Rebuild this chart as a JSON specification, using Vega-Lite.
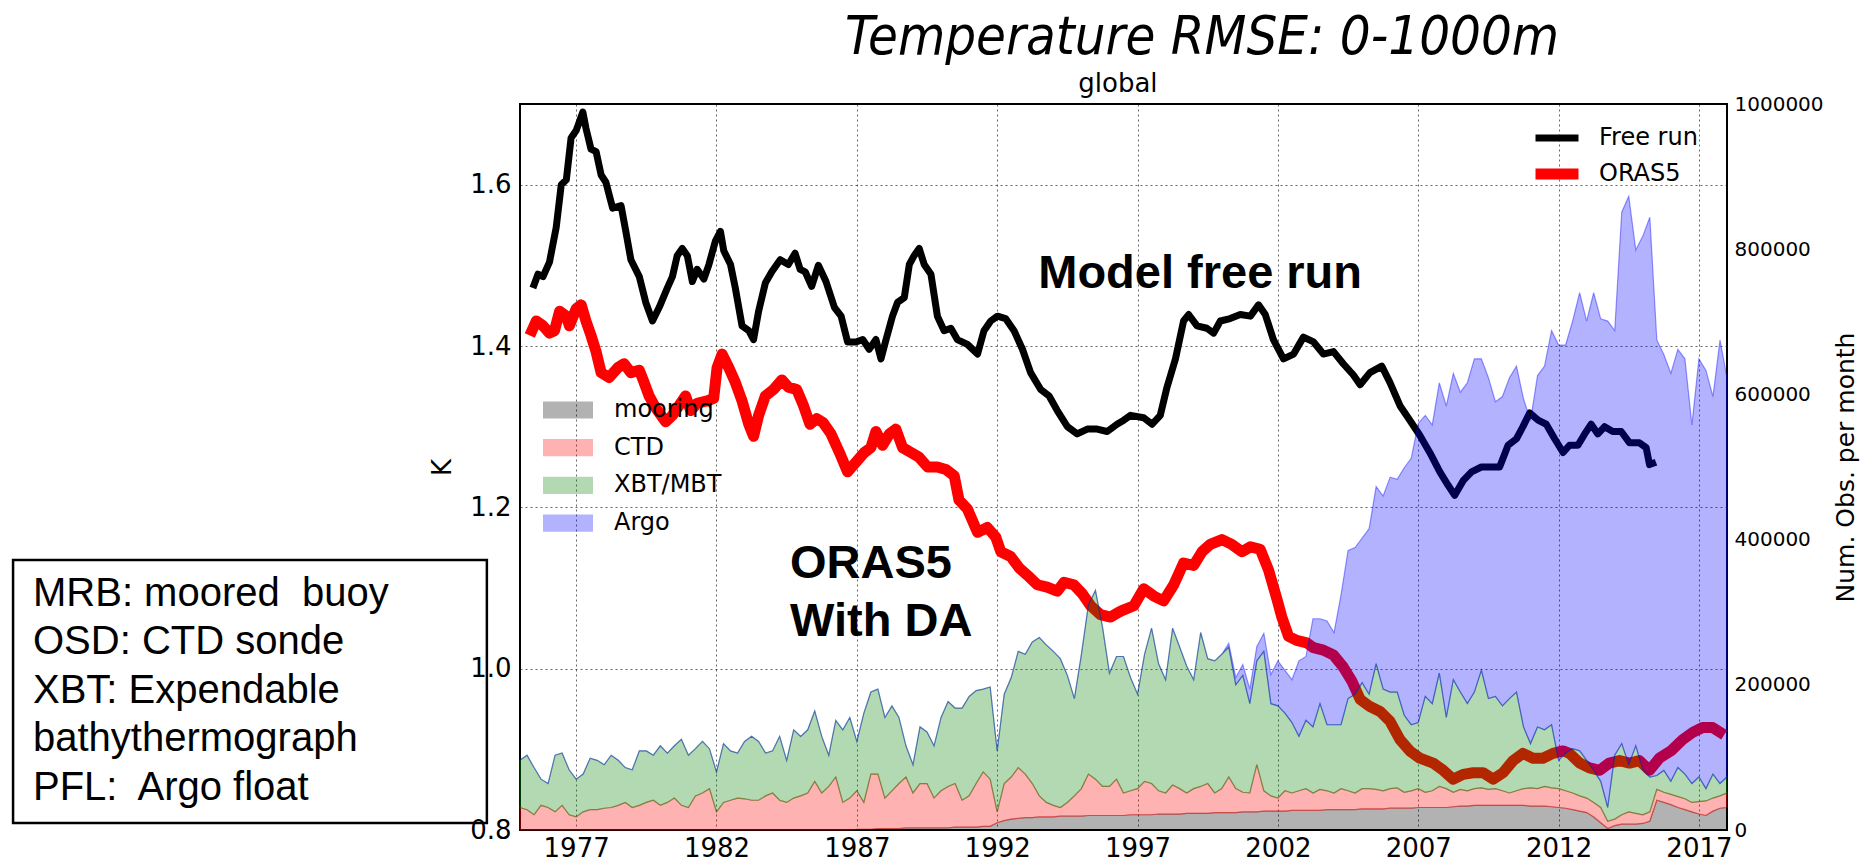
{
"$schema": "https://vega.github.io/schema/vega-lite/v6.json",
"width": 1207, "height": 726,
"autosize": {"type": "none"},
"padding": {"left": 520, "top": 104, "right": 143, "bottom": 33},
"background": "white",
"config": {
  "view": {"stroke": "black", "strokeWidth": 2},
  "font": "DejaVu Sans",
  "axis": {"labelFont": "DejaVu Sans", "titleFont": "DejaVu Sans", "labelColor": "black", "titleColor": "black", "tickColor": "black", "tickWidth": 1.5, "titleFontWeight": "normal", "labelOverlap": false, "labelFlush": false},
  "legend": {"labelFont": "DejaVu Sans", "labelFontSize": 24, "labelColor": "black", "padding": 0, "rowPadding": 6, "labelLimit": 400}
},
"datasets": {
"lines": [
{"t":1975.46,"s":"Free run","k":1.472},{"t":1975.64,"s":"Free run","k":1.489},{"t":1975.82,"s":"Free run","k":1.486},{"t":1976.05,"s":"Free run","k":1.504},{"t":1976.29,"s":"Free run","k":1.547},{"t":1976.47,"s":"Free run","k":1.6},{"t":1976.65,"s":"Free run","k":1.606},{"t":1976.82,"s":"Free run","k":1.658},{"t":1977.0,"s":"Free run","k":1.667},{"t":1977.24,"s":"Free run","k":1.69},{"t":1977.35,"s":"Free run","k":1.67},{"t":1977.53,"s":"Free run","k":1.644},{"t":1977.71,"s":"Free run","k":1.641},{"t":1977.89,"s":"Free run","k":1.612},{"t":1978.06,"s":"Free run","k":1.603},{"t":1978.3,"s":"Free run","k":1.571},{"t":1978.6,"s":"Free run","k":1.574},{"t":1978.77,"s":"Free run","k":1.542},{"t":1978.95,"s":"Free run","k":1.507},{"t":1979.25,"s":"Free run","k":1.486},{"t":1979.48,"s":"Free run","k":1.454},{"t":1979.72,"s":"Free run","k":1.431},{"t":1979.96,"s":"Free run","k":1.448},{"t":1980.25,"s":"Free run","k":1.472},{"t":1980.43,"s":"Free run","k":1.486},{"t":1980.6,"s":"Free run","k":1.512},{"t":1980.78,"s":"Free run","k":1.521},{"t":1980.96,"s":"Free run","k":1.512},{"t":1981.14,"s":"Free run","k":1.48},{"t":1981.31,"s":"Free run","k":1.495},{"t":1981.55,"s":"Free run","k":1.483},{"t":1981.73,"s":"Free run","k":1.501},{"t":1981.96,"s":"Free run","k":1.53},{"t":1982.14,"s":"Free run","k":1.542},{"t":1982.26,"s":"Free run","k":1.518},{"t":1982.5,"s":"Free run","k":1.501},{"t":1982.67,"s":"Free run","k":1.472},{"t":1982.91,"s":"Free run","k":1.425},{"t":1983.15,"s":"Free run","k":1.419},{"t":1983.32,"s":"Free run","k":1.408},{"t":1983.5,"s":"Free run","k":1.443},{"t":1983.74,"s":"Free run","k":1.478},{"t":1983.97,"s":"Free run","k":1.492},{"t":1984.27,"s":"Free run","k":1.507},{"t":1984.56,"s":"Free run","k":1.501},{"t":1984.8,"s":"Free run","k":1.515},{"t":1984.98,"s":"Free run","k":1.495},{"t":1985.16,"s":"Free run","k":1.492},{"t":1985.39,"s":"Free run","k":1.474},{"t":1985.63,"s":"Free run","k":1.5},{"t":1985.9,"s":"Free run","k":1.48},{"t":1986.2,"s":"Free run","k":1.448},{"t":1986.44,"s":"Free run","k":1.437},{"t":1986.67,"s":"Free run","k":1.405},{"t":1986.97,"s":"Free run","k":1.405},{"t":1987.21,"s":"Free run","k":1.408},{"t":1987.44,"s":"Free run","k":1.396},{"t":1987.68,"s":"Free run","k":1.408},{"t":1987.86,"s":"Free run","k":1.384},{"t":1988.04,"s":"Free run","k":1.408},{"t":1988.27,"s":"Free run","k":1.437},{"t":1988.45,"s":"Free run","k":1.454},{"t":1988.69,"s":"Free run","k":1.46},{"t":1988.87,"s":"Free run","k":1.501},{"t":1989.04,"s":"Free run","k":1.512},{"t":1989.22,"s":"Free run","k":1.521},{"t":1989.4,"s":"Free run","k":1.501},{"t":1989.64,"s":"Free run","k":1.489},{"t":1989.87,"s":"Free run","k":1.437},{"t":1990.11,"s":"Free run","k":1.419},{"t":1990.35,"s":"Free run","k":1.422},{"t":1990.58,"s":"Free run","k":1.408},{"t":1990.94,"s":"Free run","k":1.402},{"t":1991.3,"s":"Free run","k":1.39},{"t":1991.53,"s":"Free run","k":1.419},{"t":1991.77,"s":"Free run","k":1.431},{"t":1992.01,"s":"Free run","k":1.437},{"t":1992.3,"s":"Free run","k":1.434},{"t":1992.6,"s":"Free run","k":1.419},{"t":1992.9,"s":"Free run","k":1.396},{"t":1993.19,"s":"Free run","k":1.367},{"t":1993.55,"s":"Free run","k":1.346},{"t":1993.85,"s":"Free run","k":1.338},{"t":1994.14,"s":"Free run","k":1.32},{"t":1994.5,"s":"Free run","k":1.3},{"t":1994.85,"s":"Free run","k":1.291},{"t":1995.21,"s":"Free run","k":1.297},{"t":1995.56,"s":"Free run","k":1.297},{"t":1995.92,"s":"Free run","k":1.294},{"t":1996.27,"s":"Free run","k":1.303},{"t":1996.51,"s":"Free run","k":1.308},{"t":1996.75,"s":"Free run","k":1.314},{"t":1997.22,"s":"Free run","k":1.311},{"t":1997.52,"s":"Free run","k":1.303},{"t":1997.81,"s":"Free run","k":1.314},{"t":1998.05,"s":"Free run","k":1.349},{"t":1998.35,"s":"Free run","k":1.384},{"t":1998.64,"s":"Free run","k":1.431},{"t":1998.82,"s":"Free run","k":1.439},{"t":1999.12,"s":"Free run","k":1.425},{"t":1999.47,"s":"Free run","k":1.422},{"t":1999.71,"s":"Free run","k":1.416},{"t":1999.95,"s":"Free run","k":1.431},{"t":2000.3,"s":"Free run","k":1.434},{"t":2000.66,"s":"Free run","k":1.439},{"t":2001.02,"s":"Free run","k":1.437},{"t":2001.31,"s":"Free run","k":1.451},{"t":2001.55,"s":"Free run","k":1.439},{"t":2001.84,"s":"Free run","k":1.408},{"t":2002.2,"s":"Free run","k":1.384},{"t":2002.56,"s":"Free run","k":1.39},{"t":2002.91,"s":"Free run","k":1.411},{"t":2003.27,"s":"Free run","k":1.405},{"t":2003.62,"s":"Free run","k":1.39},{"t":2003.98,"s":"Free run","k":1.393},{"t":2004.33,"s":"Free run","k":1.378},{"t":2004.69,"s":"Free run","k":1.364},{"t":2004.93,"s":"Free run","k":1.352},{"t":2005.28,"s":"Free run","k":1.367},{"t":2005.7,"s":"Free run","k":1.375},{"t":2005.99,"s":"Free run","k":1.355},{"t":2006.35,"s":"Free run","k":1.326},{"t":2006.7,"s":"Free run","k":1.308},{"t":2007.06,"s":"Free run","k":1.289},{"t":2007.41,"s":"Free run","k":1.268},{"t":2007.77,"s":"Free run","k":1.244},{"t":2008.07,"s":"Free run","k":1.227},{"t":2008.3,"s":"Free run","k":1.215},{"t":2008.6,"s":"Free run","k":1.233},{"t":2008.9,"s":"Free run","k":1.244},{"t":2009.25,"s":"Free run","k":1.25},{"t":2009.55,"s":"Free run","k":1.25},{"t":2009.9,"s":"Free run","k":1.25},{"t":2010.2,"s":"Free run","k":1.277},{"t":2010.5,"s":"Free run","k":1.285},{"t":2010.73,"s":"Free run","k":1.3},{"t":2010.97,"s":"Free run","k":1.317},{"t":2011.27,"s":"Free run","k":1.308},{"t":2011.56,"s":"Free run","k":1.303},{"t":2011.86,"s":"Free run","k":1.285},{"t":2012.16,"s":"Free run","k":1.268},{"t":2012.39,"s":"Free run","k":1.277},{"t":2012.69,"s":"Free run","k":1.277},{"t":2012.93,"s":"Free run","k":1.291},{"t":2013.16,"s":"Free run","k":1.303},{"t":2013.4,"s":"Free run","k":1.291},{"t":2013.64,"s":"Free run","k":1.3},{"t":2013.93,"s":"Free run","k":1.294},{"t":2014.23,"s":"Free run","k":1.294},{"t":2014.53,"s":"Free run","k":1.28},{"t":2014.88,"s":"Free run","k":1.28},{"t":2015.12,"s":"Free run","k":1.274},{"t":2015.24,"s":"Free run","k":1.253},{"t":2015.47,"s":"Free run","k":1.256},
{"t":1975.35,"s":"ORAS5","k":1.413},{"t":1975.58,"s":"ORAS5","k":1.431},{"t":1975.82,"s":"ORAS5","k":1.425},{"t":1976.05,"s":"ORAS5","k":1.416},{"t":1976.23,"s":"ORAS5","k":1.419},{"t":1976.41,"s":"ORAS5","k":1.443},{"t":1976.65,"s":"ORAS5","k":1.437},{"t":1976.76,"s":"ORAS5","k":1.425},{"t":1977.0,"s":"ORAS5","k":1.446},{"t":1977.18,"s":"ORAS5","k":1.451},{"t":1977.35,"s":"ORAS5","k":1.431},{"t":1977.53,"s":"ORAS5","k":1.413},{"t":1977.71,"s":"ORAS5","k":1.393},{"t":1977.89,"s":"ORAS5","k":1.367},{"t":1978.18,"s":"ORAS5","k":1.361},{"t":1978.48,"s":"ORAS5","k":1.373},{"t":1978.71,"s":"ORAS5","k":1.378},{"t":1978.95,"s":"ORAS5","k":1.367},{"t":1979.25,"s":"ORAS5","k":1.37},{"t":1979.42,"s":"ORAS5","k":1.355},{"t":1979.6,"s":"ORAS5","k":1.338},{"t":1979.84,"s":"ORAS5","k":1.323},{"t":1980.19,"s":"ORAS5","k":1.306},{"t":1980.43,"s":"ORAS5","k":1.314},{"t":1980.66,"s":"ORAS5","k":1.326},{"t":1980.9,"s":"ORAS5","k":1.338},{"t":1981.08,"s":"ORAS5","k":1.32},{"t":1981.31,"s":"ORAS5","k":1.329},{"t":1981.67,"s":"ORAS5","k":1.332},{"t":1981.9,"s":"ORAS5","k":1.335},{"t":1982.02,"s":"ORAS5","k":1.373},{"t":1982.2,"s":"ORAS5","k":1.39},{"t":1982.44,"s":"ORAS5","k":1.373},{"t":1982.67,"s":"ORAS5","k":1.355},{"t":1982.91,"s":"ORAS5","k":1.332},{"t":1983.15,"s":"ORAS5","k":1.303},{"t":1983.32,"s":"ORAS5","k":1.288},{"t":1983.5,"s":"ORAS5","k":1.314},{"t":1983.74,"s":"ORAS5","k":1.338},{"t":1984.03,"s":"ORAS5","k":1.346},{"t":1984.33,"s":"ORAS5","k":1.358},{"t":1984.56,"s":"ORAS5","k":1.349},{"t":1984.86,"s":"ORAS5","k":1.346},{"t":1985.1,"s":"ORAS5","k":1.326},{"t":1985.33,"s":"ORAS5","k":1.303},{"t":1985.57,"s":"ORAS5","k":1.31},{"t":1985.8,"s":"ORAS5","k":1.305},{"t":1986.08,"s":"ORAS5","k":1.291},{"t":1986.38,"s":"ORAS5","k":1.268},{"t":1986.67,"s":"ORAS5","k":1.244},{"t":1986.97,"s":"ORAS5","k":1.256},{"t":1987.27,"s":"ORAS5","k":1.268},{"t":1987.5,"s":"ORAS5","k":1.274},{"t":1987.68,"s":"ORAS5","k":1.294},{"t":1987.92,"s":"ORAS5","k":1.277},{"t":1988.16,"s":"ORAS5","k":1.291},{"t":1988.39,"s":"ORAS5","k":1.297},{"t":1988.63,"s":"ORAS5","k":1.274},{"t":1988.93,"s":"ORAS5","k":1.268},{"t":1989.22,"s":"ORAS5","k":1.262},{"t":1989.52,"s":"ORAS5","k":1.25},{"t":1989.87,"s":"ORAS5","k":1.25},{"t":1990.17,"s":"ORAS5","k":1.247},{"t":1990.47,"s":"ORAS5","k":1.239},{"t":1990.64,"s":"ORAS5","k":1.209},{"t":1990.94,"s":"ORAS5","k":1.198},{"t":1991.3,"s":"ORAS5","k":1.169},{"t":1991.65,"s":"ORAS5","k":1.175},{"t":1991.95,"s":"ORAS5","k":1.163},{"t":1992.13,"s":"ORAS5","k":1.145},{"t":1992.48,"s":"ORAS5","k":1.139},{"t":1992.78,"s":"ORAS5","k":1.125},{"t":1993.07,"s":"ORAS5","k":1.116},{"t":1993.43,"s":"ORAS5","k":1.104},{"t":1993.78,"s":"ORAS5","k":1.101},{"t":1994.14,"s":"ORAS5","k":1.096},{"t":1994.38,"s":"ORAS5","k":1.107},{"t":1994.73,"s":"ORAS5","k":1.104},{"t":1995.03,"s":"ORAS5","k":1.093},{"t":1995.33,"s":"ORAS5","k":1.078},{"t":1995.68,"s":"ORAS5","k":1.067},{"t":1996.04,"s":"ORAS5","k":1.064},{"t":1996.33,"s":"ORAS5","k":1.07},{"t":1996.51,"s":"ORAS5","k":1.073},{"t":1996.87,"s":"ORAS5","k":1.078},{"t":1997.22,"s":"ORAS5","k":1.099},{"t":1997.58,"s":"ORAS5","k":1.09},{"t":1997.93,"s":"ORAS5","k":1.084},{"t":1998.29,"s":"ORAS5","k":1.104},{"t":1998.64,"s":"ORAS5","k":1.131},{"t":1999.0,"s":"ORAS5","k":1.128},{"t":1999.3,"s":"ORAS5","k":1.145},{"t":1999.59,"s":"ORAS5","k":1.154},{"t":2000.01,"s":"ORAS5","k":1.16},{"t":2000.36,"s":"ORAS5","k":1.154},{"t":2000.72,"s":"ORAS5","k":1.145},{"t":2001.02,"s":"ORAS5","k":1.151},{"t":2001.37,"s":"ORAS5","k":1.148},{"t":2001.67,"s":"ORAS5","k":1.122},{"t":2001.96,"s":"ORAS5","k":1.087},{"t":2002.14,"s":"ORAS5","k":1.064},{"t":2002.38,"s":"ORAS5","k":1.04},{"t":2002.67,"s":"ORAS5","k":1.035},{"t":2003.03,"s":"ORAS5","k":1.032},{"t":2003.27,"s":"ORAS5","k":1.026},{"t":2003.62,"s":"ORAS5","k":1.023},{"t":2003.98,"s":"ORAS5","k":1.017},{"t":2004.33,"s":"ORAS5","k":1.002},{"t":2004.63,"s":"ORAS5","k":0.985},{"t":2004.93,"s":"ORAS5","k":0.962},{"t":2005.28,"s":"ORAS5","k":0.953},{"t":2005.64,"s":"ORAS5","k":0.947},{"t":2005.99,"s":"ORAS5","k":0.935},{"t":2006.35,"s":"ORAS5","k":0.912},{"t":2006.7,"s":"ORAS5","k":0.898},{"t":2007.06,"s":"ORAS5","k":0.889},{"t":2007.53,"s":"ORAS5","k":0.883},{"t":2007.89,"s":"ORAS5","k":0.874},{"t":2008.24,"s":"ORAS5","k":0.863},{"t":2008.6,"s":"ORAS5","k":0.869},{"t":2008.96,"s":"ORAS5","k":0.871},{"t":2009.31,"s":"ORAS5","k":0.871},{"t":2009.67,"s":"ORAS5","k":0.863},{"t":2010.02,"s":"ORAS5","k":0.871},{"t":2010.38,"s":"ORAS5","k":0.886},{"t":2010.73,"s":"ORAS5","k":0.895},{"t":2011.09,"s":"ORAS5","k":0.889},{"t":2011.44,"s":"ORAS5","k":0.889},{"t":2011.8,"s":"ORAS5","k":0.895},{"t":2012.16,"s":"ORAS5","k":0.898},{"t":2012.39,"s":"ORAS5","k":0.895},{"t":2012.75,"s":"ORAS5","k":0.883},{"t":2013.1,"s":"ORAS5","k":0.877},{"t":2013.46,"s":"ORAS5","k":0.874},{"t":2013.81,"s":"ORAS5","k":0.883},{"t":2014.17,"s":"ORAS5","k":0.886},{"t":2014.53,"s":"ORAS5","k":0.883},{"t":2014.88,"s":"ORAS5","k":0.886},{"t":2015.24,"s":"ORAS5","k":0.874},{"t":2015.59,"s":"ORAS5","k":0.889},{"t":2016.0,"s":"ORAS5","k":0.898},{"t":2016.42,"s":"ORAS5","k":0.912},{"t":2016.78,"s":"ORAS5","k":0.921},{"t":2017.13,"s":"ORAS5","k":0.927},{"t":2017.49,"s":"ORAS5","k":0.927},{"t":2017.9,"s":"ORAS5","k":0.918}
],
"obs": [
{"t":1975,"m":0,"c":31000,"x":96000,"a":96000},{"t":1975.25,"m":0,"c":28000,"x":103000,"a":103000},{"t":1975.5,"m":0,"c":21000,"x":86000,"a":86000},{"t":1975.75,"m":0,"c":34000,"x":70000,"a":70000},
{"t":1976,"m":0,"c":31000,"x":64000,"a":64000},{"t":1976.25,"m":0,"c":25000,"x":103000,"a":103000},{"t":1976.5,"m":0,"c":34000,"x":106000,"a":106000},{"t":1976.75,"m":0,"c":21000,"x":83000,"a":83000},
{"t":1977,"m":0,"c":18000,"x":70000,"a":70000},{"t":1977.25,"m":0,"c":25000,"x":77000,"a":77000},{"t":1977.5,"m":0,"c":28000,"x":99000,"a":99000},{"t":1977.75,"m":0,"c":28000,"x":96000,"a":96000},
{"t":1978,"m":0,"c":30000,"x":90000,"a":90000},{"t":1978.25,"m":0,"c":31000,"x":103000,"a":103000},{"t":1978.5,"m":0,"c":34000,"x":96000,"a":96000},{"t":1978.75,"m":0,"c":38000,"x":86000,"a":86000},
{"t":1979,"m":0,"c":31000,"x":83000,"a":83000},{"t":1979.25,"m":0,"c":34000,"x":109000,"a":109000},{"t":1979.5,"m":0,"c":38000,"x":109000,"a":109000},{"t":1979.75,"m":0,"c":41000,"x":103000,"a":103000},
{"t":1980,"m":0,"c":34000,"x":116000,"a":116000},{"t":1980.25,"m":0,"c":38000,"x":106000,"a":106000},{"t":1980.5,"m":0,"c":44000,"x":116000,"a":116000},{"t":1980.75,"m":0,"c":34000,"x":125000,"a":125000},
{"t":1981,"m":0,"c":31000,"x":103000,"a":103000},{"t":1981.25,"m":0,"c":47000,"x":112000,"a":112000},{"t":1981.5,"m":0,"c":51000,"x":122000,"a":122000},{"t":1981.75,"m":0,"c":57000,"x":112000,"a":112000},
{"t":1982,"m":0,"c":25000,"x":80000,"a":80000},{"t":1982.25,"m":0,"c":38000,"x":119000,"a":119000},{"t":1982.5,"m":0,"c":41000,"x":109000,"a":109000},{"t":1982.75,"m":0,"c":44000,"x":106000,"a":106000},
{"t":1983,"m":0,"c":43000,"x":122000,"a":122000},{"t":1983.25,"m":0,"c":41000,"x":129000,"a":129000},{"t":1983.5,"m":0,"c":41000,"x":122000,"a":122000},{"t":1983.75,"m":0,"c":47000,"x":106000,"a":106000},
{"t":1984,"m":0,"c":51000,"x":109000,"a":109000},{"t":1984.25,"m":0,"c":41000,"x":129000,"a":129000},{"t":1984.5,"m":0,"c":38000,"x":96000,"a":96000},{"t":1984.75,"m":0,"c":44000,"x":138000,"a":138000},
{"t":1985,"m":0,"c":47000,"x":129000,"a":129000},{"t":1985.25,"m":0,"c":51000,"x":138000,"a":138000},{"t":1985.5,"m":0,"c":67000,"x":164000,"a":164000},{"t":1985.75,"m":0,"c":51000,"x":129000,"a":129000},
{"t":1986,"m":0,"c":60000,"x":103000,"a":103000},{"t":1986.25,"m":0,"c":73000,"x":151000,"a":151000},{"t":1986.5,"m":0,"c":38000,"x":138000,"a":138000},{"t":1986.75,"m":0,"c":44000,"x":155000,"a":155000},
{"t":1987,"m":1000,"c":54000,"x":122000,"a":122000},{"t":1987.25,"m":1000,"c":38000,"x":161000,"a":161000},{"t":1987.5,"m":1000,"c":77000,"x":190000,"a":190000},{"t":1987.75,"m":2000,"c":77000,"x":194000,"a":194000},
{"t":1988,"m":2000,"c":44000,"x":155000,"a":155000},{"t":1988.25,"m":2000,"c":54000,"x":171000,"a":171000},{"t":1988.5,"m":2000,"c":64000,"x":155000,"a":155000},{"t":1988.75,"m":3000,"c":73000,"x":116000,"a":116000},
{"t":1989,"m":3000,"c":51000,"x":90000,"a":90000},{"t":1989.25,"m":3000,"c":64000,"x":142000,"a":142000},{"t":1989.5,"m":3000,"c":64000,"x":135000,"a":135000},{"t":1989.75,"m":3000,"c":44000,"x":116000,"a":116000},
{"t":1990,"m":3000,"c":54000,"x":155000,"a":155000},{"t":1990.25,"m":3000,"c":60000,"x":177000,"a":177000},{"t":1990.5,"m":4000,"c":64000,"x":168000,"a":168000},{"t":1990.75,"m":4000,"c":41000,"x":168000,"a":168000},
{"t":1991,"m":4000,"c":47000,"x":184000,"a":184000},{"t":1991.25,"m":4000,"c":64000,"x":192000,"a":192000},{"t":1991.5,"m":5000,"c":80000,"x":194000,"a":194000},{"t":1991.75,"m":5000,"c":70000,"x":197000,"a":197000},
{"t":1992,"m":10000,"c":25000,"x":109000,"a":109000},{"t":1992.25,"m":13000,"c":64000,"x":187000,"a":187000},{"t":1992.5,"m":15000,"c":73000,"x":210000,"a":210000},{"t":1992.75,"m":16000,"c":86000,"x":246000,"a":246000},
{"t":1993,"m":17000,"c":77000,"x":242000,"a":242000},{"t":1993.25,"m":17000,"c":64000,"x":259000,"a":259000},{"t":1993.5,"m":18000,"c":47000,"x":265000,"a":265000},{"t":1993.75,"m":18000,"c":38000,"x":255000,"a":255000},
{"t":1994,"m":18000,"c":34000,"x":246000,"a":246000},{"t":1994.25,"m":19000,"c":31000,"x":236000,"a":236000},{"t":1994.5,"m":19000,"c":38000,"x":213000,"a":213000},{"t":1994.75,"m":19000,"c":47000,"x":181000,"a":181000},
{"t":1995,"m":19000,"c":57000,"x":242000,"a":242000},{"t":1995.25,"m":20000,"c":77000,"x":310000,"a":310000},{"t":1995.5,"m":20000,"c":70000,"x":330000,"a":330000},{"t":1995.75,"m":20000,"c":60000,"x":280000,"a":280000},
{"t":1996,"m":20000,"c":60000,"x":216000,"a":216000},{"t":1996.25,"m":20000,"c":70000,"x":239000,"a":239000},{"t":1996.5,"m":20000,"c":51000,"x":239000,"a":239000},{"t":1996.75,"m":21000,"c":54000,"x":210000,"a":210000},
{"t":1997,"m":21000,"c":57000,"x":187000,"a":187000},{"t":1997.25,"m":21000,"c":67000,"x":242000,"a":242000},{"t":1997.5,"m":21000,"c":64000,"x":278000,"a":278000},{"t":1997.75,"m":22000,"c":54000,"x":229000,"a":229000},
{"t":1998,"m":22000,"c":51000,"x":207000,"a":207000},{"t":1998.25,"m":22000,"c":62000,"x":278000,"a":278000},{"t":1998.5,"m":22000,"c":57000,"x":252000,"a":252000},{"t":1998.75,"m":23000,"c":51000,"x":226000,"a":226000},
{"t":1999,"m":23000,"c":57000,"x":207000,"a":207000},{"t":1999.25,"m":23000,"c":60000,"x":272000,"a":272000},{"t":1999.5,"m":23000,"c":64000,"x":236000,"a":236000},{"t":1999.75,"m":24000,"c":51000,"x":233000,"a":233000},
{"t":2000,"m":24000,"c":57000,"x":242000,"a":242000},{"t":2000.25,"m":24000,"c":73000,"x":252000,"a":257000},{"t":2000.5,"m":24000,"c":57000,"x":200000,"a":210000},{"t":2000.75,"m":25000,"c":52000,"x":213000,"a":228000},
{"t":2001,"m":25000,"c":51000,"x":174000,"a":194000},{"t":2001.25,"m":25000,"c":90000,"x":233000,"a":253000},{"t":2001.5,"m":26000,"c":54000,"x":246000,"a":271000},{"t":2001.75,"m":26000,"c":47000,"x":174000,"a":214000},
{"t":2002,"m":26000,"c":44000,"x":171000,"a":233000},{"t":2002.25,"m":26000,"c":54000,"x":161000,"a":220000},{"t":2002.5,"m":27000,"c":51000,"x":148000,"a":207000},{"t":2002.75,"m":27000,"c":54000,"x":129000,"a":233000},
{"t":2003,"m":27000,"c":57000,"x":151000,"a":239000},{"t":2003.25,"m":27000,"c":51000,"x":142000,"a":291000},{"t":2003.5,"m":27000,"c":56000,"x":174000,"a":291000},{"t":2003.75,"m":28000,"c":54000,"x":145000,"a":288000},
{"t":2004,"m":28000,"c":51000,"x":145000,"a":272000},{"t":2004.25,"m":28000,"c":57000,"x":145000,"a":324000},{"t":2004.5,"m":28000,"c":54000,"x":181000,"a":385000},{"t":2004.75,"m":28000,"c":51000,"x":187000,"a":389000},
{"t":2005,"m":29000,"c":57000,"x":203000,"a":402000},{"t":2005.25,"m":29000,"c":57000,"x":187000,"a":415000},{"t":2005.5,"m":29000,"c":56000,"x":229000,"a":473000},{"t":2005.75,"m":29000,"c":54000,"x":194000,"a":460000},
{"t":2006,"m":30000,"c":57000,"x":190000,"a":486000},{"t":2006.25,"m":30000,"c":58000,"x":190000,"a":483000},{"t":2006.5,"m":30000,"c":52000,"x":158000,"a":499000},{"t":2006.75,"m":30000,"c":54000,"x":145000,"a":512000},
{"t":2007,"m":31000,"c":57000,"x":148000,"a":560000},{"t":2007.25,"m":31000,"c":52000,"x":184000,"a":571000},{"t":2007.5,"m":31000,"c":54000,"x":174000,"a":558000},{"t":2007.75,"m":31000,"c":60000,"x":216000,"a":616000},
{"t":2008,"m":31000,"c":57000,"x":155000,"a":584000},{"t":2008.25,"m":32000,"c":52000,"x":207000,"a":629000},{"t":2008.5,"m":33000,"c":56000,"x":190000,"a":603000},{"t":2008.75,"m":33000,"c":54000,"x":174000,"a":616000},
{"t":2009,"m":34000,"c":57000,"x":190000,"a":649000},{"t":2009.25,"m":34000,"c":58000,"x":220000,"a":649000},{"t":2009.5,"m":34000,"c":56000,"x":181000,"a":623000},{"t":2009.75,"m":34000,"c":57000,"x":184000,"a":590000},
{"t":2010,"m":34000,"c":54000,"x":171000,"a":597000},{"t":2010.25,"m":34000,"c":51000,"x":181000,"a":623000},{"t":2010.5,"m":34000,"c":54000,"x":190000,"a":639000},{"t":2010.75,"m":34000,"c":57000,"x":142000,"a":594000},
{"t":2011,"m":33000,"c":58000,"x":119000,"a":564000},{"t":2011.25,"m":33000,"c":57000,"x":142000,"a":626000},{"t":2011.5,"m":33000,"c":60000,"x":138000,"a":639000},{"t":2011.75,"m":32000,"c":58000,"x":145000,"a":688000},
{"t":2012,"m":31000,"c":57000,"x":96000,"a":668000},{"t":2012.25,"m":30000,"c":54000,"x":106000,"a":668000},{"t":2012.5,"m":28000,"c":51000,"x":112000,"a":701000},{"t":2012.75,"m":26000,"c":47000,"x":109000,"a":740000},
{"t":2013,"m":24000,"c":44000,"x":96000,"a":701000},{"t":2013.25,"m":18000,"c":38000,"x":82000,"a":740000},{"t":2013.5,"m":10000,"c":31000,"x":67000,"a":704000},{"t":2013.75,"m":2000,"c":12000,"x":31000,"a":701000},
{"t":2014,"m":6000,"c":15000,"x":103000,"a":688000},{"t":2014.25,"m":8000,"c":21000,"x":119000,"a":851000},{"t":2014.5,"m":8000,"c":25000,"x":90000,"a":873000},{"t":2014.75,"m":8000,"c":23000,"x":116000,"a":799000},
{"t":2015,"m":9000,"c":21000,"x":83000,"a":818000},{"t":2015.25,"m":12000,"c":25000,"x":73000,"a":844000},{"t":2015.5,"m":41000,"c":56000,"x":75000,"a":675000},{"t":2015.75,"m":38000,"c":52000,"x":82000,"a":655000},
{"t":2016,"m":35000,"c":49000,"x":67000,"a":629000},{"t":2016.25,"m":31000,"c":46000,"x":86000,"a":662000},{"t":2016.5,"m":28000,"c":43000,"x":77000,"a":649000},{"t":2016.75,"m":25000,"c":38000,"x":64000,"a":558000},
{"t":2017,"m":22000,"c":39000,"x":73000,"a":649000},{"t":2017.25,"m":20000,"c":40000,"x":57000,"a":633000},{"t":2017.5,"m":26000,"c":44000,"x":77000,"a":597000},{"t":2017.75,"m":30000,"c":47000,"x":64000,"a":675000},
{"t":2018,"m":31000,"c":51000,"x":73000,"a":623000}
]
},
"layer": [
  {"layer": [
    {"data": {"name": "lines"},
     "mark": {"type": "line", "strokeJoin": "round", "strokeCap": "butt"},
     "encoding": {
       "x": {"field": "t", "type": "quantitative", "scale": {"domain": [1975, 2018], "nice": false, "zero": false},
             "axis": {"values": [1977,1982,1987,1992,1997,2002,2007,2012,2017], "format": "d", "title": null, "labelFontSize": 26, "grid": true, "gridDash": [2,3], "gridColor": "black", "gridOpacity": 0.6, "gridWidth": 1, "domain": false, "ticks": false, "labelPadding": 5}},
       "y": {"field": "k", "type": "quantitative", "scale": {"domain": [0.8, 1.7], "nice": false, "zero": false},
             "axis": {"orient": "left", "values": [0.8,1.0,1.2,1.4,1.6], "format": ".1f", "title": "K", "labelFontSize": 26, "titleFontSize": 26, "titlePadding": 14, "grid": true, "gridDash": [2,3], "gridColor": "black", "gridOpacity": 0.6, "gridWidth": 1, "domain": false, "ticks": false, "labelPadding": 9}},
       "stroke": {"field": "s", "type": "nominal", "scale": {"domain": ["Free run","ORAS5"], "range": ["#000000","#ff0000"]},
                  "legend": {"title": null, "orient": "none", "legendX": 1016, "legendY": 15, "symbolType": "M-1.4,0H1.4", "symbolSize": 943, "labelOffset": 21, "rowPadding": 0}},
       "strokeWidth": {"field": "s", "type": "ordinal", "scale": {"domain": ["Free run","ORAS5"], "range": [7, 11]},
                  "legend": {"title": null, "orient": "none", "legendX": 1016, "legendY": 15, "symbolType": "M-1.4,0H1.4", "symbolSize": 943, "labelOffset": 21, "rowPadding": 0}}
     }},
    {"data": {"values": [{}]},
     "mark": {"type": "text", "text": "Model free run", "font": "Liberation Sans", "fontWeight": "bold", "fontSize": 47, "align": "center", "baseline": "alphabetic", "color": "black"},
     "encoding": {"x": {"datum": 1999.23, "type": "quantitative"}, "y": {"datum": 1.472, "type": "quantitative"}}},
    {"data": {"values": [{}]},
     "mark": {"type": "text", "text": ["ORAS5", "With DA"], "lineHeight": 58, "font": "Liberation Sans", "fontWeight": "bold", "fontSize": 47, "align": "left", "baseline": "alphabetic", "color": "black"},
     "encoding": {"x": {"datum": 1984.62, "type": "quantitative"}, "y": {"datum": 1.113, "type": "quantitative"}}},
    {"data": {"values": [{}]},
     "mark": {"type": "text", "text": "Temperature RMSE: 0-1000m", "font": "DejaVu Sans Condensed, Liberation Sans", "fontStyle": "italic", "fontSize": 54, "align": "center", "baseline": "alphabetic", "color": "black"},
     "encoding": {"x": {"datum": 1999.3, "type": "quantitative"}, "y": {"datum": 1.762, "type": "quantitative"}}},
    {"data": {"values": [{}]},
     "mark": {"type": "text", "text": "global", "font": "DejaVu Sans", "fontSize": 26, "align": "center", "baseline": "alphabetic", "color": "black"},
     "encoding": {"x": {"datum": 1996.3, "type": "quantitative"}, "y": {"datum": 1.715, "type": "quantitative"}}},
    {"data": {"values": [{}]},
     "mark": {"type": "rect", "fill": "transparent", "stroke": "black", "strokeWidth": 2.5},
     "encoding": {"x": {"datum": 1956.94, "type": "quantitative"}, "x2": {"datum": 1973.82}, "y": {"datum": 1.1347, "type": "quantitative"}, "y2": {"datum": 0.8087}}},
    {"data": {"values": [{}]},
     "mark": {"type": "text", "text": ["MRB: moored\u00a0 buoy", "OSD: CTD sonde", "XBT: Expendable", "bathythermograph", "PFL:\u00a0 Argo float"], "lineHeight": 48.5, "font": "Liberation Sans", "fontSize": 40, "align": "left", "baseline": "alphabetic", "color": "black"},
     "encoding": {"x": {"datum": 1957.65, "type": "quantitative"}, "y": {"datum": 1.0777, "type": "quantitative"}}}
  ]},
  {"data": {"name": "obs"},
   "encoding": {
     "x": {"field": "t", "type": "quantitative", "scale": {"domain": [1975, 2018], "nice": false, "zero": false},
           "axis": {"values": [1977,1982,1987,1992,1997,2002,2007,2012,2017], "format": "d", "title": null, "labelFontSize": 26, "grid": true, "gridDash": [2,3], "gridColor": "black", "gridOpacity": 0.6, "gridWidth": 1, "domain": false, "ticks": false, "labelPadding": 5}}
   },
   "layer": [
    {"mark": {"type": "area", "fillOpacity": 0.3, "stroke": "#000000", "strokeWidth": 1.2, "strokeOpacity": 0.3},
     "encoding": {
       "y": {"field": "m", "type": "quantitative", "scale": {"domain": [0, 1000000], "nice": false, "zero": false},
             "axis": {"orient": "right", "values": [0,200000,400000,600000,800000,1000000], "format": "d", "title": "Num. Obs. per month", "labelFontSize": 20, "titleFontSize": 25, "titlePadding": 10, "titleAngle": 270, "titleBaseline": "top", "grid": false, "domain": false, "ticks": false, "labelPadding": 7}},
       "y2": {"datum": 0},
       "fill": {"datum": "mooring", "type": "nominal", "scale": {"domain": ["mooring","CTD","XBT/MBT","Argo"], "range": ["#000000","#ff0000","#008000","#0000ff"]},
                "legend": {"title": null, "orient": "none", "legendX": 32, "legendY": 290, "symbolType": "M-1.6,-0.55H1.6V0.55H-1.6Z", "symbolSize": 977, "symbolOpacity": 0.3, "symbolStrokeWidth": 0, "labelOffset": 30, "rowPadding": 9.7}}
     }},
    {"mark": {"type": "area", "fillOpacity": 0.3, "stroke": "#ff0000", "strokeWidth": 1.2, "strokeOpacity": 0.4},
     "encoding": {
       "y": {"field": "c", "type": "quantitative", "scale": {"domain": [0, 1000000], "nice": false, "zero": false}},
       "y2": {"field": "m"},
       "fill": {"datum": "CTD", "type": "nominal"}
     }},
    {"mark": {"type": "area", "fillOpacity": 0.3, "stroke": "#008000", "strokeWidth": 1.2, "strokeOpacity": 0.4},
     "encoding": {
       "y": {"field": "x", "type": "quantitative", "scale": {"domain": [0, 1000000], "nice": false, "zero": false}},
       "y2": {"field": "c"},
       "fill": {"datum": "XBT/MBT", "type": "nominal"}
     }},
    {"mark": {"type": "area", "fillOpacity": 0.3, "stroke": "#0000ff", "strokeWidth": 1.2, "strokeOpacity": 0.4},
     "encoding": {
       "y": {"field": "a", "type": "quantitative", "scale": {"domain": [0, 1000000], "nice": false, "zero": false}},
       "y2": {"field": "x"},
       "fill": {"datum": "Argo", "type": "nominal"}
     }}
   ]}
],
"resolve": {"scale": {"y": "independent"}, "axis": {"y": "independent"}}
}
